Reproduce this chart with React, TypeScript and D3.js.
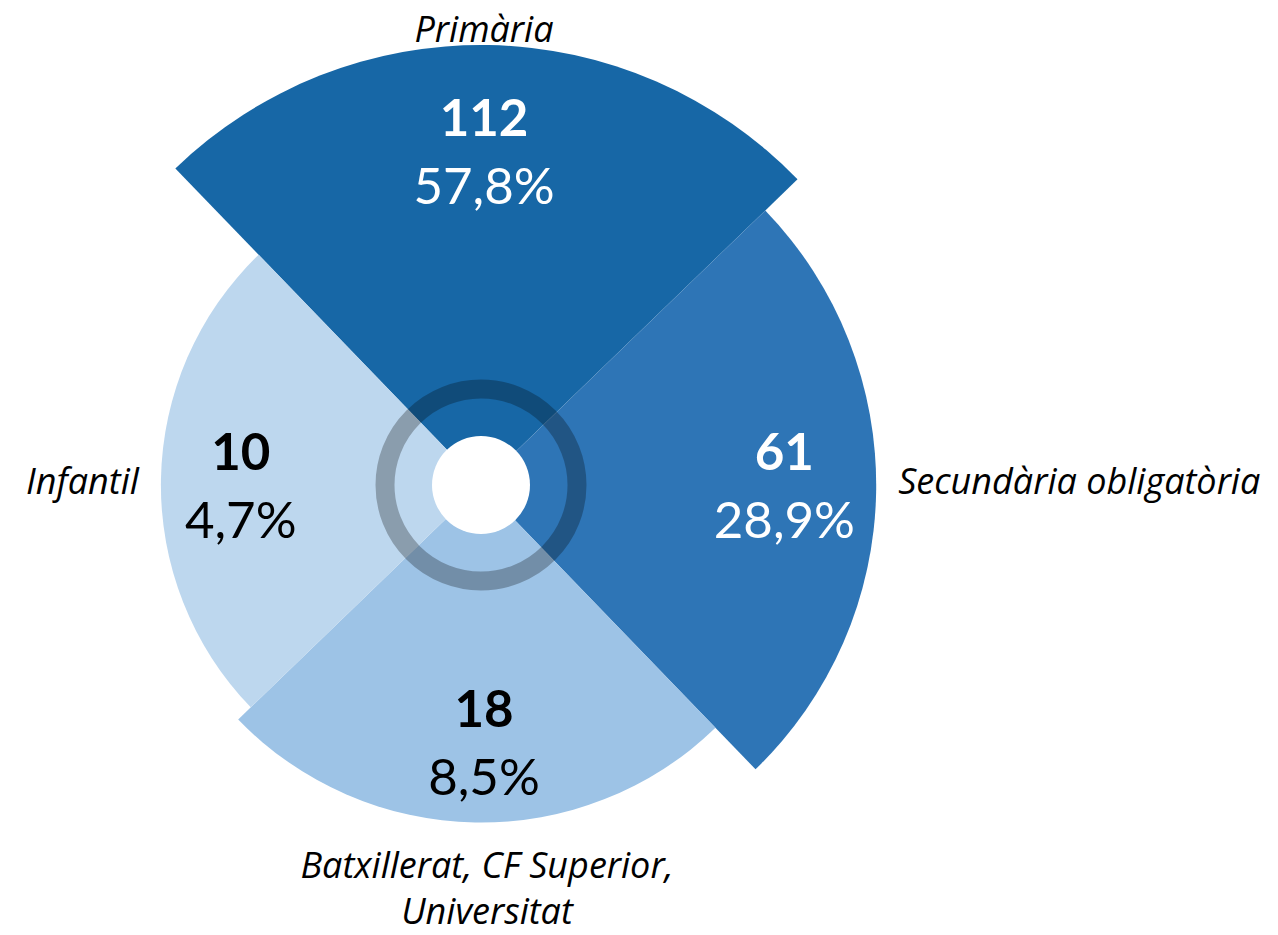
import React from "react";
import * as d3 from "d3";

// Nombre d'alumnes per nivell d'estudis
const categories = ["Primària", "Secundària obligatòria", "Batxillerat, CF Superior, Universitat", "Infantil"];
const labelLines = [["Primària"], ["Secundària obligatòria"], ["Batxillerat, CF Superior,", "Universitat"], ["Infantil"]];
const counts = [112, 61, 18, 10];
const shares = [57.8, 28.9, 8.5, 4.7];

const colors = ["#1767A6", "#2E75B6", "#9DC3E6", "#BDD7EE"];
const textColors = ["#ffffff", "#ffffff", "#000000", "#000000"];

const W = 1278;
const H = 935;
const cx = 481;
const cy = 485;
const tilt = (1 * Math.PI) / 180; // the wedges sit a touch clockwise
const holeR = 49;
const ringR = 96;
const font = "Lato, 'Open Sans', sans-serif";
const labelFont = "'Open Sans', Lato, sans-serif";

const locale = d3.formatLocale({ decimal: ",", thousands: ".", grouping: [3], currency: ["", "€"] });
const pct = (v: number) => locale.format(".1f")(v) + "%";

export default function App() {
  const angle = d3
    .scaleBand<string>()
    .domain(categories)
    .range([-Math.PI / 4, (7 * Math.PI) / 4]);

  const radius = d3
    .scaleSqrt()
    .domain([0, d3.max(counts) as number])
    .range([269, 440]);

  const arc = d3.arc<number>();

  // where the category name goes, relative to the wedge
  const place = (theta: number, r: number) => {
    const s = Math.sin(theta);
    const c = -Math.cos(theta);
    if (Math.abs(s) > 0.7) {
      return { anchor: s > 0 ? "start" : "end", x: cx + s * (r + 22), y: cy + 9 };
    }
    return c < 0
      ? { anchor: "middle", x: cx + 3, y: cy - r - 3 }
      : { anchor: "middle", x: cx + 6, y: cy + r + 55 };
  };

  return (
    <svg
      width={W}
      height={H}
      viewBox={`0 0 ${W} ${H}`}
      style={{ position: "absolute", left: 0, top: 0, background: "#fff" }}
      fontFamily={font}
    >
      <g transform={`translate(${cx},${cy})`}>
        {categories.map((cat, i) => {
          const a0 = (angle(cat) as number) + tilt;
          const d = arc({
            innerRadius: 0,
            outerRadius: radius(counts[i]),
            startAngle: a0,
            endAngle: a0 + angle.bandwidth(),
          } as any);
          return <path key={cat} d={d || ""} fill={colors[i]} />;
        })}
        <circle r={ringR} fill="none" stroke="#000" strokeOpacity={0.27} strokeWidth={19} />
        <circle r={holeR} fill="#fff" />
      </g>

      {categories.map((cat, i) => {
        const theta = (angle(cat) as number) + angle.bandwidth() / 2;
        const r = radius(counts[i]);
        const lr = r * 0.76;
        const px = cx + 3 + lr * Math.sin(theta);
        const py = cy - lr * Math.cos(theta);
        return (
          <g key={cat} fill={textColors[i]} textAnchor="middle" fontSize={51}>
            <text x={px} y={py - 15} fontWeight="bold">
              {counts[i]}
            </text>
            <text x={px} y={py + 53}>{pct(shares[i])}</text>
          </g>
        );
      })}

      {categories.map((cat, i) => {
        const theta = (angle(cat) as number) + angle.bandwidth() / 2;
        const p = place(theta, radius(counts[i]));
        return (
          <text
            key={cat}
            x={p.x}
            y={p.y}
            textAnchor={p.anchor}
            fontFamily={labelFont}
            fontSize={36}
            fontStyle="italic"
            fill="#000"
          >
            {labelLines[i].map((line, j) => (
              <tspan key={j} x={p.x} dy={j === 0 ? 0 : 46}>
                {line}
              </tspan>
            ))}
          </text>
        );
      })}
    </svg>
  );
}
